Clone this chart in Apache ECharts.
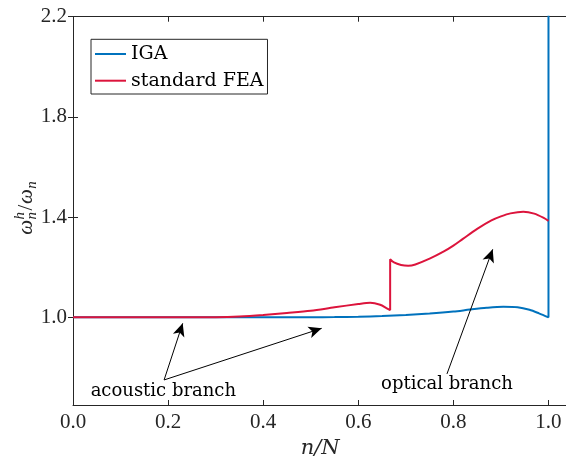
<!DOCTYPE html>
<html>
<head>
<meta charset="utf-8">
<script src="https://cdn.jsdelivr.net/npm/echarts@6/dist/echarts.min.js"></script>
<style>
  html, body { margin: 0; padding: 0; background: #fff; }
  #chart { width: 566px; height: 459px; }
</style>
</head>
<body>
<div id="chart"></div>
<script>
// Tick positions
const xTicks = [0, 0.2, 0.4, 0.6, 0.8, 1.0];
const yTicks = [1.0, 1.4, 1.8, 2.2];

// Normalised frequency ratio, IGA
const igaX = [0, 0.1, 0.2, 0.3, 0.4, 0.5, 0.55, 0.6, 0.65, 0.7, 0.75, 0.8, 0.835, 0.87, 0.905, 0.935, 0.96, 0.98, 1.0, 1.0];
const igaY = [1.0, 1.0, 1.0, 1.0, 1.0, 1.0005, 1.001, 1.002, 1.005, 1.009, 1.015, 1.023, 1.031, 1.038, 1.042, 1.04, 1.03, 1.016, 1.0, 2.6];

// Normalised frequency ratio, standard FEA (acoustic + optical branch)
const feaX = [0, 0.1, 0.2, 0.3, 0.35, 0.4, 0.45, 0.5, 0.55, 0.6, 0.625, 0.646, 0.66, 0.667, 0.667, 0.675, 0.69, 0.705, 0.72, 0.75, 0.78, 0.8, 0.82, 0.85, 0.88, 0.9, 0.92, 0.947, 0.97, 0.99, 1.0];
const feaY = [1.0, 1.0, 1.0, 1.0005, 1.003, 1.009, 1.017, 1.026, 1.04, 1.053, 1.058, 1.05, 1.036, 1.029, 1.232, 1.219, 1.209, 1.206, 1.211, 1.234, 1.263, 1.286, 1.313, 1.353, 1.387, 1.403, 1.415, 1.4215, 1.414, 1.397, 1.385];

const seriesNames = ['IGA', 'standard FEA'];

// Annotation labels and arrows (data coordinates)
const labelTexts = ['acoustic branch', 'optical branch'];
const labelAt = [[0.19, 0.706], [0.7865, 0.734]];
const arrowFrom = [[0.1916, 0.750], [0.1916, 0.750], [0.7865, 0.774]];
const arrowTo = [[0.2307, 0.976], [0.523, 0.956], [0.8827, 1.2715]];

const AXIS_COLOR = '#262626';
const NUM_FONT = 'Liberation Serif';
const TEXT_FONT = 'DejaVu Serif';

const zip = (xs, ys) => xs.map((x, i) => [x, ys[i]]);

const chart = echarts.init(document.getElementById('chart'), null, { renderer: 'canvas' });

const tickStyle = { show: true, inside: true, length: 5, lineStyle: { color: AXIS_COLOR, width: 1 } };
const lineStyleAxis = { show: true, lineStyle: { color: AXIS_COLOR, width: 1 } };

// y-axis title: omega^h_n / omega_n, laid out piece by piece
function yTitle() {
  const big = 'italic 21px "Liberation Serif"';
  const up = 'normal 21px "Liberation Serif"';
  const small = 'italic 15px "Liberation Serif"';
  const ctx = document.createElement('canvas').getContext('2d');
  const w = (t, f) => { ctx.font = f; return ctx.measureText(t).width; };
  const wO = w('ω', big), wH = w('h', small), wN = w('n', small), wS = w('/', up);
  const pieces = [];
  let x = 0;
  pieces.push({ t: 'ω', f: big, x: x, base: 0, size: 21 });
  x += wO + 0.5;
  pieces.push({ t: 'h', f: small, x: x, base: -8, size: 15 });
  pieces.push({ t: 'n', f: small, x: x, base: 4, size: 15 });
  x += Math.max(wH, wN) + 1.5;
  pieces.push({ t: '/', f: up, x: x, base: 0, size: 21 });
  x += wS + 0.5;
  pieces.push({ t: 'ω', f: big, x: x, base: 0, size: 21 });
  x += wO + 0.5;
  pieces.push({ t: 'n', f: small, x: x, base: 4, size: 15 });
  x += wN;
  const total = x;
  return {
    type: 'group',
    x: 33,
    y: 208,
    rotation: Math.PI / 2,
    silent: true,
    children: pieces.map(p => ({
      type: 'text',
      x: p.x - total / 2,
      y: p.base - 0.3 * p.size,
      style: { text: p.t, font: p.f, fill: AXIS_COLOR, align: 'left', verticalAlign: 'middle' }
    }))
  };
}

const option = {
  animation: false,
  backgroundColor: '#fff',
  grid: { left: 73, top: 16.7, width: 494.5, bottom: 54, containLabel: false, outerBoundsMode: 'none' },
  legend: {
    data: seriesNames,
    orient: 'vertical',
    left: 91,
    top: 39.3,
    icon: 'rect',
    itemWidth: 31,
    itemHeight: 2,
    itemGap: 7.7,
    padding: [5.2, 4, 3.8, 4],
    borderColor: AXIS_COLOR,
    borderWidth: 1,
    borderRadius: 0,
    backgroundColor: '#fff',
    selectedMode: false,
    textStyle: { fontFamily: TEXT_FONT, fontSize: 19, lineHeight: 19, color: '#000' }
  },
  xAxis: [
    {
      type: 'value', min: 0, max: 1.04, position: 'bottom',
      axisLine: lineStyleAxis,
      axisTick: Object.assign({ customValues: xTicks }, tickStyle),
      splitLine: { show: false },
      axisLabel: {
        customValues: xTicks, margin: 7,
        formatter: v => v.toFixed(1),
        fontFamily: NUM_FONT, fontSize: 21, color: AXIS_COLOR
      },
      name: 'n/N', nameLocation: 'middle', nameGap: 26,
      nameTextStyle: { fontFamily: TEXT_FONT, fontStyle: 'italic', fontSize: 21, color: AXIS_COLOR }
    },
    {
      type: 'value', min: 0, max: 1.04, position: 'top',
      axisLine: lineStyleAxis,
      axisTick: Object.assign({ customValues: xTicks }, tickStyle),
      splitLine: { show: false },
      axisLabel: { show: false }
    }
  ],
  yAxis: [
    {
      type: 'value', min: 0.65, max: 2.2, position: 'left',
      axisLine: lineStyleAxis,
      axisTick: Object.assign({ customValues: yTicks }, tickStyle),
      splitLine: { show: false },
      axisLabel: {
        customValues: yTicks, margin: 6,
        formatter: v => v.toFixed(1),
        fontFamily: NUM_FONT, fontSize: 21, color: AXIS_COLOR
      }
    },
    {
      type: 'value', min: 0.65, max: 2.2, position: 'right',
      axisLine: lineStyleAxis,
      axisTick: Object.assign({ customValues: yTicks }, tickStyle),
      splitLine: { show: false },
      axisLabel: { show: false }
    }
  ],
  graphic: [yTitle()],
  series: [
    {
      name: seriesNames[0], type: 'line', data: zip(igaX, igaY),
      symbol: 'none', smooth: 0.3, clip: true,
      color: '#0072BD', lineStyle: { width: 2, color: '#0072BD' }
    },
    {
      name: seriesNames[1], type: 'line', data: zip(feaX, feaY),
      symbol: 'none', smooth: 0.3, clip: true,
      color: '#DC143C', lineStyle: { width: 2, color: '#DC143C' }
    },
    {
      name: 'notes', type: 'line', data: [], symbol: 'none', silent: true,
      markLine: {
        silent: true, animation: false,
        symbol: ['none', 'arrow'], symbolSize: [9, 13],
        label: { show: false },
        lineStyle: { color: '#000', width: 1, type: 'solid' },
        data: arrowFrom.map((a, i) => [{ coord: a }, { coord: arrowTo[i] }])
      },
      markPoint: {
        silent: true, animation: false,
        symbol: 'circle', symbolSize: 1,
        itemStyle: { color: 'rgba(0,0,0,0)' },
        label: {
          show: true, position: 'inside', formatter: '{b}',
          fontFamily: TEXT_FONT, fontSize: 18, color: '#000'
        },
        data: labelTexts.map((t, i) => ({ name: t, coord: labelAt[i] }))
      }
    }
  ]
};

chart.setOption(option);
</script>
</body>
</html>
